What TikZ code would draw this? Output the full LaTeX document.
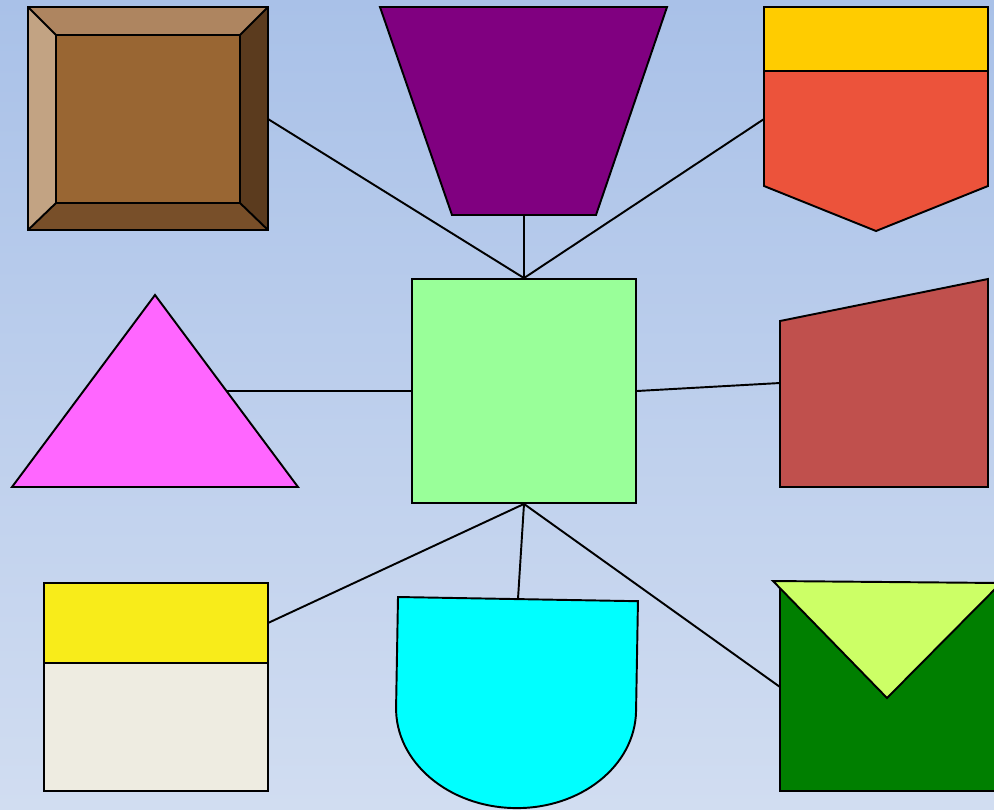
\documentclass[tikz,border=0pt]{standalone}
\usepackage{xcolor}
\usepackage{tikz}
\usetikzlibrary{positioning}

\definecolor{bgtop}{HTML}{A9C1E8}
\definecolor{bgbot}{HTML}{D1DDF1}
\definecolor{browntop}{HTML}{AE8560}
\definecolor{brownleft}{HTML}{C2A383}
\definecolor{brownright}{HTML}{5B3B1E}
\definecolor{brownbot}{HTML}{784F29}
\definecolor{browncore}{HTML}{996633}
\definecolor{trapviolet}{HTML}{800080}
\definecolor{tabgold}{HTML}{FFCC00}
\definecolor{tabred}{HTML}{EC533B}
\definecolor{hubgreen}{HTML}{99FF99}
\definecolor{trimagenta}{HTML}{FF66FF}
\definecolor{quadred}{HTML}{C0504D}
\definecolor{capyellow}{HTML}{F8EC1A}
\definecolor{capbeige}{HTML}{EEECE1}
\definecolor{cupcyan}{HTML}{00FFFF}
\definecolor{envgreen}{HTML}{007F00}
\definecolor{envflap}{HTML}{CCFF66}

\begin{document}
\begin{tikzpicture}[x=0.02cm, y=-0.02cm, line width=1.1pt, shp/.style = {draw, line join=miter}, hub/.style = {draw, fill=hubgreen, minimum size=4.48cm, inner sep=0pt}]
    \useasboundingbox (0,0) rectangle (994,809);
    \shade[top color=bgtop, bottom color=bgbot] (0,0) rectangle (994,809);

    % 中心
    \node[hub] (hub) at (524,391) {};

    % 左上 斜面框
    \fill[browncore] (56,35) rectangle (240,203);
    \fill[browntop] (28,7) -- (268,7) -- (240,35) -- (56,35) -- cycle;
    \fill[brownleft] (28,7) -- (56,35) -- (56,203) -- (28,230) -- cycle;
    \fill[brownright] (268,7) -- (268,230) -- (240,203) -- (240,35) -- cycle;
    \fill[brownbot] (28,230) -- (268,230) -- (240,203) -- (56,203) -- cycle;
    \draw (28,7) rectangle (268,230);
    \draw (56,35) rectangle (240,203);
    \draw (28,7) -- (56,35) (268,7) -- (240,35) (28,230) -- (56,203) (268,230) -- (240,203);
    \coordinate (bevel) at (268,119);

    % 上 梯形
    \draw[shp, fill=trapviolet] (380,7) -- (667,7) -- (596,215) -- (452,215) -- cycle;
    \coordinate (trap) at (524,215);

    % 右上 五边形
    \draw[shp, fill=tabgold] (764,7) rectangle (988,71);
    \draw[shp, fill=tabred] (764,71) -- (988,71) -- (988,186) -- (876,231) -- (764,186) -- cycle;
    \coordinate (tab) at (764,119);

    % 左 三角形
    \draw[shp, fill=trimagenta] (12,487) -- (155,295) -- (298,487) -- cycle;
    \coordinate (tri) at (227,391);

    % 右 四边形
    \draw[shp, fill=quadred] (780,321) -- (988,279) -- (988,487) -- (780,487) -- cycle;
    \coordinate (quad) at (780,383);

    % 左下
    \draw[shp, fill=capyellow] (44,583) rectangle (268,663);
    \draw[shp, fill=capbeige] (44,663) rectangle (268,791);
    \coordinate (cap) at (268,623);

    % 下 杯形
    \begin{scope}[shift={(398,597)}, rotate=-1]
        \draw[shp, fill=cupcyan] (0,0) -- (240,0) -- (240,110) arc (0:180:120 and 99) -- cycle;
        \coordinate (cup) at (120,0);
    \end{scope}

    % 右下 信封
    \draw[shp, fill=envgreen] (780,583) rectangle (1000,791);
    \draw[shp, fill=envflap] (773,581) -- (1001,583) -- (887,698) -- cycle;
    \coordinate (env) at (780,687);

    % 边定义
    \draw (hub.north) -- (bevel);
    \draw (hub.north) -- (trap);
    \draw (hub.north) -- (tab);
    \draw (hub.west) -- (tri);
    \draw (hub.east) -- (quad);
    \draw (hub.south) -- (cap);
    \draw (hub.south) -- (cup);
    \draw (hub.south) -- (env);
\end{tikzpicture}
\end{document}
